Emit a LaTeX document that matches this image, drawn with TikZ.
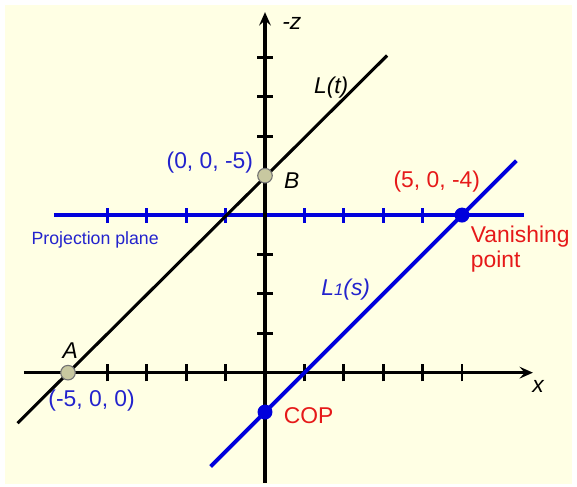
\documentclass[tikz,border=0pt]{standalone}
\usepackage{fontspec}
\setmainfont{Liberation Sans}
\usetikzlibrary{arrows.meta,calc,positioning}

\definecolor{paper}{RGB}{255,255,228}
\definecolor{planeblue}{RGB}{0,0,220}
\definecolor{labelblue}{RGB}{35,35,205}
\definecolor{labelred}{RGB}{230,25,25}
\definecolor{dotkhaki}{RGB}{200,200,160}

\begin{document}
\begin{tikzpicture}[
  x=1cm,
  y=1cm,
  >={Stealth[length=3.4mm,width=3mm,inset=1.3mm]},
  every node/.style={font=\fontsize{16.5}{18.5}\selectfont},
  axisline/.style={line width=2.2pt, black},
  axistick/.style={line width=2pt, black},
  planeline/.style={line width=2.8pt, planeblue},
  planetick/.style={line width=2.4pt, planeblue},
  rayline/.style={line width=2.2pt, black},
  projline/.style={line width=2.8pt, planeblue},
  pointdot/.style={circle, draw=black!55, fill=dotkhaki, line width=0.8pt, minimum size=0.37cm, inner sep=0pt},
  bluedot/.style={circle, fill=planeblue, minimum size=0.38cm, inner sep=0pt},
  bluelabel/.style={text=labelblue},
  redlabel/.style={text=labelred},
]
% paper
\useasboundingbox (-6.726,-2.901) rectangle (7.919,9.459);
\fill[white] (-6.726,-2.901) rectangle (7.919,9.459);
\fill[paper] (-6.60,-2.82) rectangle (7.79,9.33);

% end points
\coordinate (xfrom) at (-6.12,0);
\coordinate (xto) at (6.80,0);
\coordinate (zfrom) at (0,-2.80);
\coordinate (zto) at (0,9.15);
\coordinate (planeL) at (-5.36,4);
\coordinate (planeR) at (6.57,4);
\coordinate (Lfrom) at (-6.28,-1.28);
\coordinate (Lto) at (3.10,8.05);
\coordinate (Mfrom) at (-1.38,-2.38);
\coordinate (Mto) at (6.38,5.38);

% projection plane
\draw[planeline] (planeL) -- (planeR);
\foreach \t in {-4,-3,-2,-1,1,2,3,4}
  \draw[planetick] (\t,3.81) -- (\t,4.19);

% axes
\draw[axisline,->] (zfrom) -- (zto);
\draw[axisline,->] (xfrom) -- (xto);
\foreach \t in {-4,-3,-2,-1,1,2,3,4,5}
  \draw[axistick] (\t,-0.22) -- (\t,0.22);
\foreach \t in {1,2,3,6,7,8}
  \draw[axistick] (-0.2,\t) -- (0.2,\t);

% lines
\draw[rayline] (Lfrom) -- (Lto);
\draw[projline] (Mfrom) -- (Mto);

% points
\node[pointdot] (A) at (-5,0) {};
\node[pointdot] (B) at (0,5) {};
\node[bluedot] (VP) at (5,4) {};
\node[bluedot] (COP) at (0,-1) {};

% labels
\node (zlabel) at (0.68,8.86) {\textit{-z}};
\node (xlabel) at (6.94,-0.36) {\textit{x}};
\node (Llabel) at (1.68,7.24) {\textit{L(t)}};
\node (Alabel) at (-4.94,0.55) {\textit{A}};
\node (Blabel) at (0.68,4.88) {\textit{B}};
\node[bluelabel] (Bcoord) at (-1.40,5.33) {(0, 0, -5)};
\node[bluelabel] (Acoord) at (-4.40,-0.70) {(-5, 0, 0)};
\node[redlabel] (VPcoord) at (4.36,4.86) {(5, 0, -4)};
\node[redlabel, anchor=north west, align=left, inner sep=0pt] (VPlabel) at (5.22,3.74) {Vanishing\\point};
\node[redlabel, anchor=west, inner sep=0pt] (COPlabel) at (0.47,-1.08) {COP};
\node[bluelabel, anchor=west, inner sep=0pt, font=\fontsize{12.8}{15}\selectfont] (planelabel) at (-5.93,3.37) {Projection plane};
\node[bluelabel] (L1label) at (2.05,2.12) {\textit{L{\fontsize{12}{14}\selectfont 1}(s)}};
\end{tikzpicture}
\end{document}
